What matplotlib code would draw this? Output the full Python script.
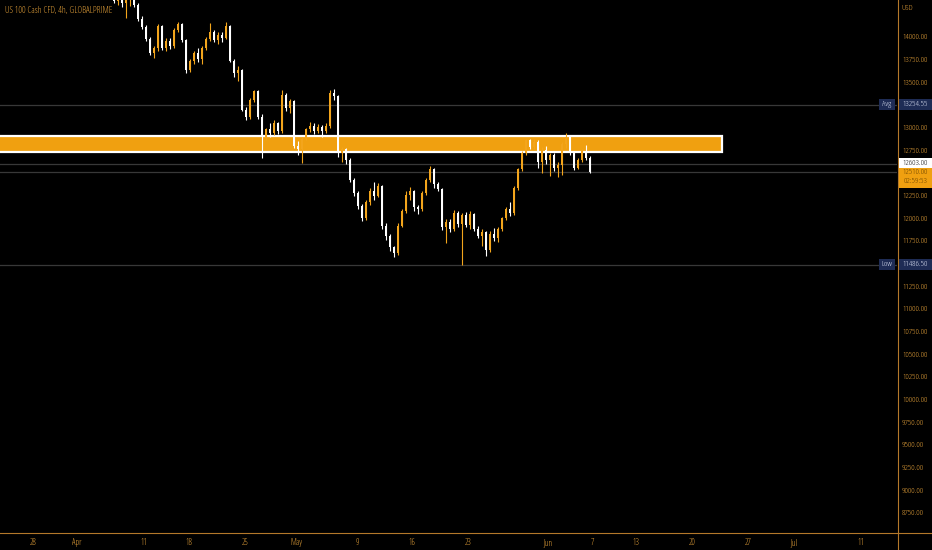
import matplotlib
matplotlib.use("Agg")
import matplotlib.pyplot as plt
import matplotlib.font_manager as fm
from matplotlib.font_manager import FontProperties
from matplotlib.textpath import TextPath
from matplotlib.patches import Rectangle
from matplotlib.lines import Line2D
import numpy as np

# ---------------- data ----------------
opens = [14900, 14950, 15050, 15100, 15080, 14980, 15020, 14920, 14850, 14760,
         14860, 14820, 14730, 14780, 14860, 14920, 14870, 14780, 14700, 14640,
         14680, 14600, 14560, 14620, 14570, 14520, 14580, 14530,
         14460, 14400, 14470, 14380, 14420, 14440, 14350, 14200, 14110, 13980,
         13820, 13880, 14120, 13880, 13960, 13900, 14080, 14140, 13970, 13640,
         13740, 13820, 13760, 13880, 13980, 14060, 13970, 14020, 13990, 14120,
         13740, 13600, 13640, 13200, 13120, 13300, 13400, 13120, 12900, 12980,
         12940, 13050, 12960, 13360, 13220, 13290, 12800, 12760, 12880, 12980,
         13020, 12960, 13010, 12960, 13020, 13380, 13350, 12720, 12760, 12640,
         12420, 12280, 12140, 12000, 12180, 12300, 12250, 12360, 11920, 11800,
         11680, 11620, 11920, 12080, 12260, 12300, 12120, 12100, 12280, 12420,
         12540, 12380, 12320, 11900, 11960, 11880, 12060, 11940, 12040, 11930,
         12050, 11880, 11800, 11850, 11650, 11830, 11780, 11880, 12000, 12100,
         12060, 12330, 12540, 12720, 12860, 12790, 12840, 12620, 12750, 12640,
         12700, 12560, 12590, 12820, 12900, 12730, 12560, 12640, 12740, 12670]
highs = [15000, 15080, 15150, 15200, 15120, 15050, 15060, 14980, 14900, 14880,
         14920, 14850, 14800, 14880, 14950, 14960, 14900, 14820, 14750, 14700,
         14720, 14650, 14640, 14660, 14620, 14600, 14620, 14570,
         14560, 14520, 14540, 14450, 14500, 14470, 14380, 14230, 14130, 14000,
         13900, 14140, 14130, 13990, 13990, 14100, 14170, 14150, 13980, 13760,
         13840, 13880, 13900, 14000, 14150, 14080, 14050, 14060, 14160, 14130,
         13760, 13680, 13650, 13230, 13330, 13420, 13410, 13150, 13000, 13050,
         13080, 13060, 13420, 13380, 13320, 13300, 12850, 12900, 13000, 13060,
         13050, 13040, 13030, 13050, 13420, 13430, 13360, 12790, 12780, 12660,
         12440, 12300, 12160, 12200, 12330, 12400, 12390, 12370, 11950, 11830,
         11700, 11950, 12100, 12300, 12350, 12310, 12150, 12300, 12450, 12580,
         12560, 12400, 12330, 11990, 11990, 12090, 12080, 12060, 12070, 12080,
         12060, 11910, 11880, 11860, 11860, 11890, 11900, 12020, 12120, 12180,
         12360, 12560, 12740, 12880, 12880, 12880, 12860, 12790, 12800, 12720,
         12720, 12620, 12840, 12940, 12910, 12740, 12660, 12760, 12810, 12690]
lows = [14820, 14900, 15000, 15040, 14950, 14900, 14880, 14800, 14720, 14740,
        14800, 14700, 14650, 14760, 14830, 14840, 14750, 14660, 14600, 14560,
        14580, 14520, 14500, 14540, 14480, 14470, 14500, 14440,
        14380, 14350, 14330, 14210, 14340, 14330, 14180, 14090, 13960, 13800,
        13770, 13850, 13860, 13840, 13870, 13880, 14050, 13950, 13600, 13610,
        13700, 13720, 13700, 13860, 13960, 13950, 13920, 13940, 13980, 13720,
        13560, 13520, 13180, 13080, 13100, 13280, 13100, 12670, 12860, 12900,
        12920, 12930, 12940, 13180, 13160, 12780, 12700, 12610, 12860, 12950,
        12930, 12940, 12900, 12940, 13000, 13300, 12680, 12620, 12600, 12400,
        12250, 12100, 11970, 11980, 12150, 12200, 12230, 11880, 11760, 11640,
        11570, 11590, 11900, 12060, 12200, 12080, 12050, 12080, 12260, 12400,
        12330, 12300, 11870, 11730, 11850, 11860, 11900, 11486, 11900, 11880,
        11860, 11780, 11700, 11580, 11630, 11750, 11740, 11860, 11980, 12030,
        12040, 12310, 12520, 12700, 12760, 12760, 12560, 12500, 12600, 12470,
        12520, 12460, 12480, 12780, 12700, 12530, 12540, 12620, 12640, 12500]
closes = [14950, 15050, 15100, 15080, 14980, 15020, 14920, 14850, 14760, 14860,
          14820, 14730, 14780, 14860, 14920, 14870, 14780, 14700, 14640, 14680,
          14600, 14560, 14620, 14570, 14520, 14580, 14530, 14460,
          14400, 14470, 14380, 14420, 14440, 14350, 14200, 14110, 13980, 13820,
          13880, 14120, 13880, 13960, 13900, 14080, 14140, 13970, 13640, 13740,
          13820, 13760, 13880, 13980, 14060, 13970, 14020, 13990, 14120, 13740,
          13600, 13640, 13200, 13120, 13300, 13400, 13120, 12900, 12980, 12940,
          13050, 12960, 13360, 13220, 13290, 12800, 12760, 12880, 12980, 13020,
          12960, 13010, 12960, 13020, 13380, 13350, 12720, 12760, 12640, 12420,
          12280, 12140, 12000, 12180, 12300, 12250, 12360, 11920, 11800, 11680,
          11620, 11920, 12080, 12260, 12300, 12120, 12100, 12280, 12420, 12540,
          12380, 12320, 11900, 11960, 11880, 12060, 11940, 12040, 11930, 12050,
          11880, 11800, 11850, 11650, 11830, 11780, 11880, 12000, 12100, 12060,
          12330, 12540, 12720, 12860, 12790, 12840, 12620, 12750, 12640, 12700,
          12560, 12590, 12820, 12900, 12730, 12560, 12640, 12740, 12670, 12510]

date_labels = ["28", "Apr", "11", "18", "25", "May", "9", "16", "23",
               "Jun", "7", "13", "20", "27", "Jul", "11"]
date_pos = [7.75, 18.75, 35.5, 46.75, 60.75, 73.5, 88.75, 102.5, 116.5,
            136.5, 147.75, 158.5, 172.5, 186.5, 198.0, 214.75]
price_ticks = [14000, 13750, 13500, 13000, 12750, 12250, 12000, 11750,
               11250, 11000, 10750, 10500, 10250, 10000, 9750, 9500, 9250,
               9000, 8750]
zone_low, zone_high = 12730, 12910
zone_end = 180
avg_price = 13254.55
low_price = 11486.50
bid_price = 12603.00
last_price = 12510.00
countdown = "02:59:53"
title = "US 100 Cash CFD, 4h, GLOBALPRIME"

# ---------------- font choice: narrowest available ----------------
candidates = [("Liberation Sans Narrow", "normal"), ("DejaVu Sans", "condensed"),
              ("Roboto", "condensed"), ("Noto Sans", "condensed"),
              ("Open Sans", "condensed"), ("Liberation Sans", "normal"),
              ("DejaVu Sans", "normal")]
best = None
for fam, st in candidates:
    try:
        fp = FontProperties(family=fam, stretch=st)
        fm.findfont(fp, fallback_to_default=False)
    except Exception:
        continue
    try:
        w = TextPath((0, 0), "14000.00", prop=fp, size=10).get_extents().width
    except Exception:
        continue
    if best is None or w < best[2]:
        best = (fam, st, w)
FONT, STRETCH, W10 = best
plt.rcParams["font.family"] = [FONT, "DejaVu Sans"]
plt.rcParams["font.stretch"] = STRETCH

def size_for(text, target_px):
    fp = FontProperties(family=FONT, stretch=STRETCH)
    w = TextPath((0, 0), text, prop=fp, size=10).get_extents().width
    return 10 * target_px / (w * 100 / 72)

FS_Y = min(6.5, size_for("14000.00", 24.5))
FS_T = min(7.0, size_for(title, 106))
FS_X = min(6.5, size_for("Apr", 9.5))

W, H = 932, 550
AX_R, AX_B = 897, 533
YMIN, YMAX = 8529, 14408
XMIN, XMAX = -0.5, 223.75
UP = "#f3a51c"
DOWN = "#ffffff"
TXT = "#e6a23a"
AXC = "#b4782a"

fig = plt.figure(figsize=(W / 100, H / 100), dpi=100, facecolor="black")
ax = fig.add_axes([0, (H - AX_B) / H, AX_R / W, AX_B / H])
ax.set_facecolor("black")
ax.set_xlim(XMIN, XMAX)
ax.set_ylim(YMIN, YMAX)
for s in ax.spines.values():
    s.set_visible(False)

# zone
ax.add_patch(Rectangle((-5, zone_low), zone_end + 5, zone_high - zone_low,
                       facecolor="#f0a010", edgecolor="white", lw=1.6, zorder=1))

# horizontal reference lines
for p in (avg_price, bid_price, last_price, low_price):
    ax.axhline(p, color="#383838", lw=0.9, zorder=0.5)

# candles
o = np.array(opens, float); h = np.array(highs, float)
l = np.array(lows, float); c = np.array(closes, float)
x = np.arange(len(o))
cols = [UP if cc >= oo else DOWN for oo, cc in zip(o, c)]
ax.vlines(x, l, h, colors=cols, lw=0.8, zorder=3)
body = np.maximum(np.abs(c - o), 8)
ax.bar(x, body, bottom=np.minimum(o, c), width=0.62, color=cols, lw=0, zorder=4)

# axes ticks
ax.set_xticks(date_pos)
ax.set_xticklabels(date_labels)
ax.tick_params(axis="x", length=0, pad=3.5, labelsize=FS_X, labelcolor=TXT)
ax.yaxis.tick_right()
ax.set_yticks(price_ticks)
ax.set_yticklabels([f"{v:.2f}" for v in price_ticks])
ax.tick_params(axis="y", length=0, pad=3.6, labelsize=FS_Y, labelcolor=TXT)

# axis lines across figure
fig.add_artist(Line2D([(AX_R + 0.5) / W] * 2, [0, 1], color=AXC, lw=0.8,
                      transform=fig.transFigure))
fig.add_artist(Line2D([0, 1], [(H - AX_B) / H] * 2, color=AXC, lw=0.8,
                      transform=fig.transFigure))

def fy(p):
    return ((H - AX_B) + (p - YMIN) / (YMAX - YMIN) * AX_B) / H

def box(x0, x1, yc, hpx, color):
    fig.add_artist(Rectangle((x0 / W, yc - hpx / 2 / H), (x1 - x0) / W, hpx / H,
                             facecolor=color, edgecolor="none",
                             transform=fig.transFigure, zorder=5))

NAVY = "#1e2c55"
LBL = "#d8def0"
for p, tag in ((avg_price, "Avg"), (low_price, "Low")):
    yc = fy(p)
    box(899, 932, yc, 11, NAVY)
    box(879, 895, yc, 11, NAVY)
    fig.text(915.5 / W, yc, f"{p:.2f}", color=LBL, fontsize=FS_Y, ha="center",
             va="center", zorder=6)
    fig.text(887 / W, yc, tag, color=LBL, fontsize=FS_Y, ha="center",
             va="center", zorder=6)

yb = fy(bid_price)
box(899, 932, yb, 11, "#ffffff")
fig.text(915.5 / W, yb, f"{bid_price:.2f}", color="#111111", fontsize=FS_Y,
         ha="center", va="center", zorder=6)

yl = fy(last_price)
box(899, 932, yl - 5.5 / H, 20, "#f0a010")
fig.text(915.5 / W, yl, f"{last_price:.2f}", color="#6a4300", fontsize=FS_Y,
         ha="center", va="center", zorder=6)
fig.text(915.5 / W, yl - 9 / H, countdown, color="#6a4300", fontsize=FS_Y,
         ha="center", va="center", zorder=6)

fig.text(901 / W, 1 - 8 / H, "USD", color=TXT, fontsize=FS_Y, ha="left", va="center")
fig.text(5 / W, 1 - 10 / H, title, color=TXT, fontsize=FS_T, ha="left",
         va="center")

fig.savefig("out.png", dpi=100, facecolor="black")
